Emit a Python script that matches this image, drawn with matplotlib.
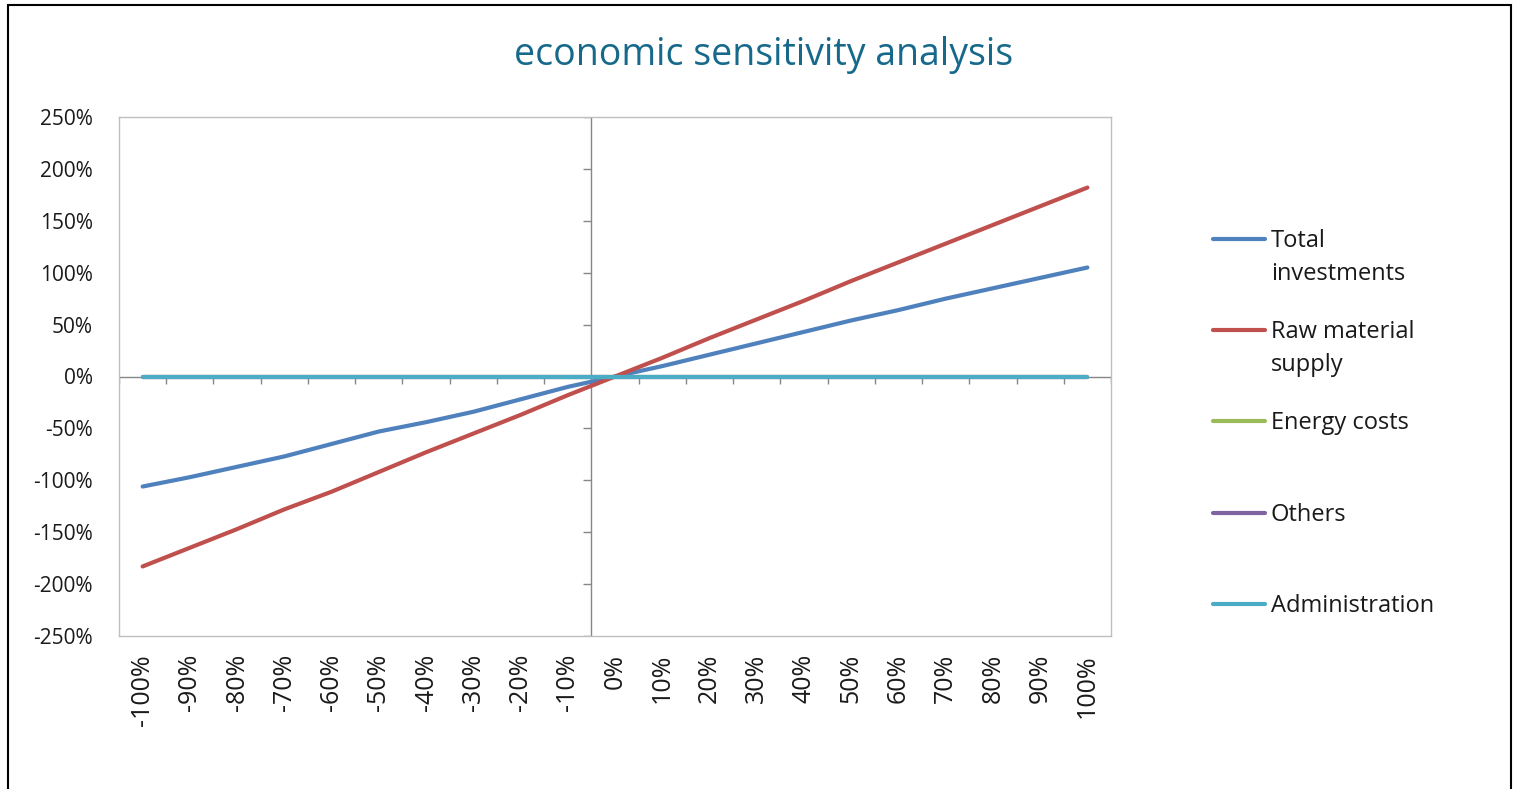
import numpy as np
import matplotlib.pyplot as plt
from matplotlib.lines import Line2D, TICKDOWN, TICKLEFT
from matplotlib.patches import Rectangle
from matplotlib.ticker import FuncFormatter

plt.rcParams['font.family'] = ['Open Sans', 'DejaVu Sans']

# sensitivity steps (x categories)
steps = [-100, -90, -80, -70, -60, -50, -40, -30, -20, -10, 0,
         10, 20, 30, 40, 50, 60, 70, 80, 90, 100]
step_labels = [f"{s}%" for s in steps]

# effect on result, in %
total_investments = [-106, -97, -87, -77, -65, -53, -44, -34, -22, -10, 0,
                     10, 21, 32, 43, 54, 64, 75, 85, 95, 105]
raw_material = [-183, -165, -147, -128, -111, -92, -73, -55, -37, -18, 0,
                18, 37, 55, 73, 92, 110, 128, 146, 164, 182]
energy_costs = [0] * 21
others = [0] * 21
administration = [0] * 21

series_names = ["Total investments", "Raw material supply", "Energy costs",
                "Others", "Administration"]
legend_labels = ["Total\ninvestments", "Raw material\nsupply", "Energy costs",
                 "Others", "Administration"]
colors = ["#4F81BD", "#C0504D", "#9BBB59", "#8064A2", "#4BACC6"]
y_ticks = [-250, -200, -150, -100, -50, 0, 50, 100, 150, 200, 250]

W, H = 1514, 789
fig = plt.figure(figsize=(W / 100, H / 100), dpi=100)


def px(x, y):
    # pixel position (from top-left) -> figure fraction
    return x / W, 1 - y / H


left, top, right, bottom = 119, 117, 1111, 636
ax = fig.add_axes([left / W, 1 - bottom / H, (right - left) / W, (bottom - top) / H])

xs = np.arange(len(steps))
ax.set_xlim(-0.5, len(steps) - 0.5)
ax.set_ylim(-250, 250)

# axes cross: value axis between -10% and 0%, category axis at 0%
axis_col = "#868686"
cross_x = 9.5
ax.axvline(cross_x, color=axis_col, lw=1.0, zorder=1)
ax.axhline(0, color=axis_col, lw=1.0, zorder=1)
ax.plot(np.arange(-0.5, len(steps), 1.0), np.zeros(len(steps) + 1), ls='none',
        marker=TICKDOWN, ms=5, mec=axis_col, mew=1.0, zorder=1)
ax.plot(np.full(len(y_ticks), cross_x), y_ticks, ls='none',
        marker=TICKLEFT, ms=6, mec=axis_col, mew=1.0, zorder=1)

all_series = [total_investments, raw_material, energy_costs, others, administration]
for vals, c, name in zip(all_series, colors, series_names):
    ax.plot(xs, vals, color=c, lw=3.0, solid_capstyle='round',
            solid_joinstyle='round', label=name, zorder=3)

# frame of plot area
for sp in ax.spines.values():
    sp.set_color("#BFBFBF")
    sp.set_linewidth(1.0)

ax.set_yticks(y_ticks)
ax.yaxis.set_major_formatter(FuncFormatter(lambda v, p: f"{int(v)}%"))
ax.tick_params(axis='y', length=0, pad=19, labelsize=15, labelcolor="#1a1a1a")
ax.set_xticks(xs)
ax.set_xticklabels(step_labels, rotation=90, va='top', ha='center')
ax.tick_params(axis='x', length=0, pad=13, labelsize=18, labelcolor="#1a1a1a")

fig.text(*px(764, 55), "economic sensitivity analysis", ha='center', va='center',
         fontsize=27, color="#17698B")

# legend, one slot per series
slot_y = [239, 330, 421, 513, 604]
for y, c, lab in zip(slot_y, colors, legend_labels):
    x0, y0 = px(1213, y)
    x1, _ = px(1265, y)
    fig.add_artist(Line2D([x0, x1], [y0, y0], color=c, lw=3.0,
                          solid_capstyle='round'))
    fig.text(*px(1271, y - 10), lab, ha='left', va='top', fontsize=17,
             color="#1a1a1a", linespacing=1.5)

# outer border
bx0, by0 = px(8, 900)
bx1, by1 = px(1511, 5)
fig.add_artist(Rectangle((bx0, by0), bx1 - bx0, by1 - by0, fill=False,
                         edgecolor="black", lw=1.5, transform=fig.transFigure))

fig.savefig("out.png", dpi=100)
